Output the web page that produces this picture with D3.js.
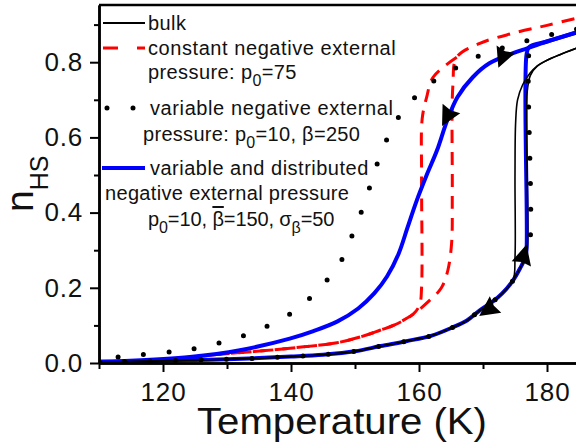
<!DOCTYPE html>
<html>
<head>
<meta charset="utf-8">
<script src="https://cdn.jsdelivr.net/npm/d3@7"></script>
<style>
    body { margin: 0; background: #fff; }
    #chart-area { width: 576px; height: 447px; }
    text { font-family: "Liberation Sans", Arial, sans-serif; fill: #111; }
</style>
</head>
<body>
<div id="chart-area"></div>
<script>

// values, pairs of [temperature (K), n_HS]
// common low-spin branch (heating) shared by bulk, variable and distributed curves
const lowBranch = [[110,0.003],[115,0.004],[120,0.006],[125,0.008],[130,0.010],[135,0.013],[140,0.017],[145,0.022],
    [150,0.031],[154,0.045],[158,0.058],[162,0.073],[165,0.093],[167.5,0.113],[169.5,0.14],[171.5,0.163],[173,0.185],
    [174.7,0.22],[175.8,0.252],[176.6,0.28]];

const bulkHeatTop = [[176.9,0.30],[176.9,0.72],[177.4,0.765],[178.5,0.79],[180,0.805],[182,0.82],[184.6,0.837]];
const bulkCoolTop = [[184.6,0.837],[182,0.82],[180,0.805],[178.5,0.79],[177.3,0.77],[176.2,0.74],[175.4,0.70],
    [175.1,0.64],[175.0,0.50],[175.0,0.28],[174.7,0.22]];

const constHeat = [[110,0.002],[116,0.005],[122,0.012],[129.4,0.024],[136,0.033],[142,0.043],[147.2,0.054],[151,0.07],
    [153.9,0.087],[156,0.10],[159.1,0.13],[161.7,0.167],[163.5,0.20],[164.5,0.246],[165.1,0.32],[165.2,0.45],
    [165.3,0.74],[165.9,0.813],[169.5,0.85],[174.7,0.877],[180,0.898],[184.6,0.917]];
const constCoolTop = [[165.9,0.813],[162.2,0.76],[161.2,0.707],[160.5,0.65],[160.4,0.50],[160.4,0.20],[160.1,0.155],[159.1,0.13]];

const varCool = [[184.6,0.888],[181.6,0.877],[177.7,0.861],[173.4,0.84],[169.5,0.818],[165.9,0.786],[162.5,0.752],
    [159.4,0.707],[156.7,0.651],[154.7,0.584],[153.1,0.512],[151.9,0.446],[150.5,0.38],[148.9,0.313],[147.2,0.252],
    [144.5,0.201],[141.4,0.148],[137.8,0.111],[134.1,0.082],[130.2,0.06],[126.1,0.042],[121.9,0.031],[114.2,0.018],[110.3,0.012]];
const varHeatTop = [[177.2,0.30],[177.2,0.83],[177.7,0.861]];

const distHeatTop = [[176.8,0.30],[176.8,0.82],[177.2,0.84],[180,0.855],[184.6,0.879]];
const distCool = [[184.6,0.879],[180,0.855],[176.9,0.837],[174.7,0.824],[171,0.797],[168.4,0.76],[166,0.707],[164.4,0.645],
    [162.8,0.565],[161.2,0.50],[159.6,0.43],[158.2,0.36],[156.8,0.29],[155,0.23],[153,0.185],[150.5,0.145],[147.2,0.11],
    [143.5,0.085],[139.8,0.065],[132,0.034],[124.2,0.016],[113.8,0.005],[110,0.003]];

// arrow heads: tip [T, n] and heading (deg, screen)
const arrowMarks = [
    {t: 172.4, n: 0.785, angle: 112},
    {t: 163.6, n: 0.63, angle: 118},
    {t: 176.8, n: 0.315, angle: -75},
    {t: 169.4, n: 0.125, angle: 145}
];

const xMajor = [120, 140, 160, 180];
const xMinor = [110, 130, 150, 170];
const yMajor = [0.0, 0.2, 0.4, 0.6, 0.8];
const yMinor = [0.1, 0.3, 0.5, 0.7, 0.9];

class HysteresisChart {

    constructor(parentElement) {
        this.parentElement = parentElement;
        this.initVis();
    }

    initVis() {
        let vis = this;

        vis.margin = {top: 5, right: 0, bottom: 84, left: 99};
        vis.width = 576 - vis.margin.left - vis.margin.right;
        vis.height = 447 - vis.margin.top - vis.margin.bottom;

        vis.svg = d3.select("#" + vis.parentElement).append("svg")
            .attr("width", 576)
            .attr("height", 447)
            .append("g")
            .attr("transform", "translate(" + vis.margin.left + "," + vis.margin.top + ")");

        vis.x = d3.scaleLinear()
            .range([0, vis.width])
            .domain([110, 110 + vis.width / 6.4]);

        vis.y = d3.scaleLinear()
            .range([vis.height, 0])
            .domain([0, vis.height / 376]);

        vis.svg.append("clipPath").attr("id", "plot-clip")
            .append("rect").attr("width", vis.width).attr("height", vis.height);

        vis.line = d3.line()
            .x(d => vis.x(d[0]))
            .y(d => vis.y(d[1]))
            .curve(d3.curveCatmullRom.alpha(0.5));

        vis.updateVis();
    }

    updateVis() {
        let vis = this;
        let plot = vis.svg.append("g").attr("clip-path", "url(#plot-clip)");

        let lowUpTo = t => lowBranch.filter(d => d[0] <= t);

        // constant pressure (red dashed)
        let red = [constHeat, constCoolTop.concat(constHeat.filter(d => d[0] < 159.1).reverse())];
        plot.selectAll(".red").data(red).enter().append("path")
            .attr("d", vis.line)
            .attr("fill", "none")
            .attr("stroke", "#ff0000")
            .attr("stroke-width", 3)
            .attr("stroke-dasharray", "13,9");

        // variable and distributed (blue)
        let blue = [lowBranch.concat(distHeatTop), distCool];
        plot.selectAll(".blue").data(blue).enter().append("path")
            .attr("d", vis.line)
            .attr("fill", "none")
            .attr("stroke", "#0000ff")
            .attr("stroke-width", 4);

        // bulk (thin black)
        let bulk = [lowBranch.concat(bulkHeatTop), bulkCoolTop.concat(lowUpTo(174.6).reverse())];
        plot.selectAll(".bulk").data(bulk).enter().append("path")
            .attr("d", vis.line)
            .attr("fill", "none")
            .attr("stroke", "#000")
            .attr("stroke-width", 1.6);

        // variable pressure (black dots)
        let dots = [varCool, lowBranch.concat(varHeatTop)];
        plot.selectAll(".dots").data(dots).enter().append("path")
            .attr("d", vis.line)
            .attr("fill", "none")
            .attr("stroke", "#000")
            .attr("stroke-width", 5)
            .attr("stroke-linecap", "round")
            .attr("stroke-dasharray", "0,25.5");

        // arrows
        plot.selectAll(".arrow").data(arrowMarks).enter().append("path")
            .attr("d", "M0,0L-20,-10L-18,0L-20,10Z")
            .attr("fill", "#000")
            .attr("transform", d => "translate(" + vis.x(d.t) + "," + vis.y(d.n) + ") rotate(" + d.angle + ")");

        // frame
        vis.svg.append("line")
            .attr("x1", 0).attr("x2", vis.width + 10)
            .attr("y1", 0).attr("y2", 0)
            .attr("stroke", "#000").attr("stroke-width", 2.5);

        // axes
        vis.svg.append("g")
            .attr("transform", "translate(0," + vis.height + ")")
            .call(d3.axisBottom(vis.x).tickValues(xMajor).tickSize(9).tickSizeOuter(0).tickPadding(11));
        vis.svg.append("g")
            .attr("transform", "translate(0," + vis.height + ")")
            .call(d3.axisBottom(vis.x).tickValues(xMinor).tickSize(6).tickSizeOuter(0).tickFormat(""));

        vis.svg.append("g")
            .call(d3.axisLeft(vis.y).tickValues(yMajor).tickSize(9).tickSizeOuter(0).tickPadding(7)
                .tickFormat(d3.format(".1f")));
        vis.svg.append("g")
            .call(d3.axisLeft(vis.y).tickValues(yMinor).tickSize(5).tickSizeOuter(0).tickFormat(""));

        vis.svg.selectAll(".domain").attr("stroke-width", 2.5);
        vis.svg.selectAll(".tick line").attr("stroke-width", 2);
        vis.svg.selectAll(".tick text")
            .attr("font-size", "26px")
            .attr("font-family", "Liberation Sans, Arial, sans-serif")
            .attr("fill", "#111")
            .style("letter-spacing", "0.8px");

        // axis labels
        vis.svg.append("text")
            .attr("x", 342 - vis.margin.left)
            .attr("y", 434 - vis.margin.top)
            .attr("text-anchor", "middle")
            .attr("font-size", "36px")
            .attr("textLength", 290)
            .attr("lengthAdjust", "spacingAndGlyphs")
            .text("Temperature (K)");

        let yl = vis.svg.append("text")
            .attr("transform", "translate(" + (33 - vis.margin.left) + "," + (212 - vis.margin.top) + ") rotate(-90)")
            .attr("font-size", "39px");
        yl.append("tspan").text("n");
        yl.append("tspan").attr("dy", 15).attr("font-size", "25px").text("HS");

        vis.drawLegend();
    }

    drawLegend() {
        let vis = this;
        let lg = vis.svg.append("g")
            .attr("transform", "translate(" + (-vis.margin.left) + "," + (-vis.margin.top) + ")");

        lg.append("line").attr("x1", 103).attr("x2", 145).attr("y1", 23).attr("y2", 23)
            .attr("stroke", "#000").attr("stroke-width", 1.8);
        lg.append("line").attr("x1", 103).attr("x2", 145).attr("y1", 48).attr("y2", 48)
            .attr("stroke", "#ff0000").attr("stroke-width", 3).attr("stroke-dasharray", "15,19");
        lg.append("line").attr("x1", 107).attr("x2", 145).attr("y1", 108).attr("y2", 108)
            .attr("stroke", "#000").attr("stroke-width", 5).attr("stroke-linecap", "round")
            .attr("stroke-dasharray", "0,26");
        lg.append("line").attr("x1", 102).attr("x2", 145).attr("y1", 168).attr("y2", 168)
            .attr("stroke", "#0000ff").attr("stroke-width", 4);

        // parts: plain strings, {sub: ..} for subscripts, {bar: ..} for an overlined symbol
        let addText = (x, y, spacing, parts) => {
            let t = lg.append("text").attr("x", x).attr("y", y)
                .attr("font-size", "20px")
                .style("letter-spacing", spacing + "px");
            let shift = 0;
            parts.forEach(p => {
                let s;
                if (typeof p === "string") {
                    s = t.append("tspan").text(p);
                } else if (p.sub) {
                    s = t.append("tspan").attr("font-size", "16px").text(p.sub);
                } else {
                    s = t.append("tspan").style("text-decoration", "overline").text(p.bar);
                }
                let want = (typeof p !== "string" && p.sub) ? 7 : 0;
                if (want !== shift) { s.attr("dy", want - shift); shift = want; }
            });
        };

        addText(148, 30, 0.4, ["bulk"]);
        addText(148, 55, 0.57, ["constant negative external"]);
        addText(148, 79, 0.4, ["pressure: p", {sub: "0"}, "=75"]);
        addText(150, 115, 0.6, ["variable negative external"]);
        addText(143, 141, 0.3, ["pressure: p", {sub: "0"}, "=10, \u03b2=250"]);
        addText(150, 175, 0.5, ["variable and distributed"]);
        addText(105, 200, 0.33, ["negative external pressure"]);
        addText(148, 226, -0.1, ["p", {sub: "0"}, "=10, ", {bar: "\u03b2"}, "=150, \u03c3", {sub: "\u03b2"}, "=50"]);
    }
}

new HysteresisChart("chart-area");
</script>
</body>
</html>
